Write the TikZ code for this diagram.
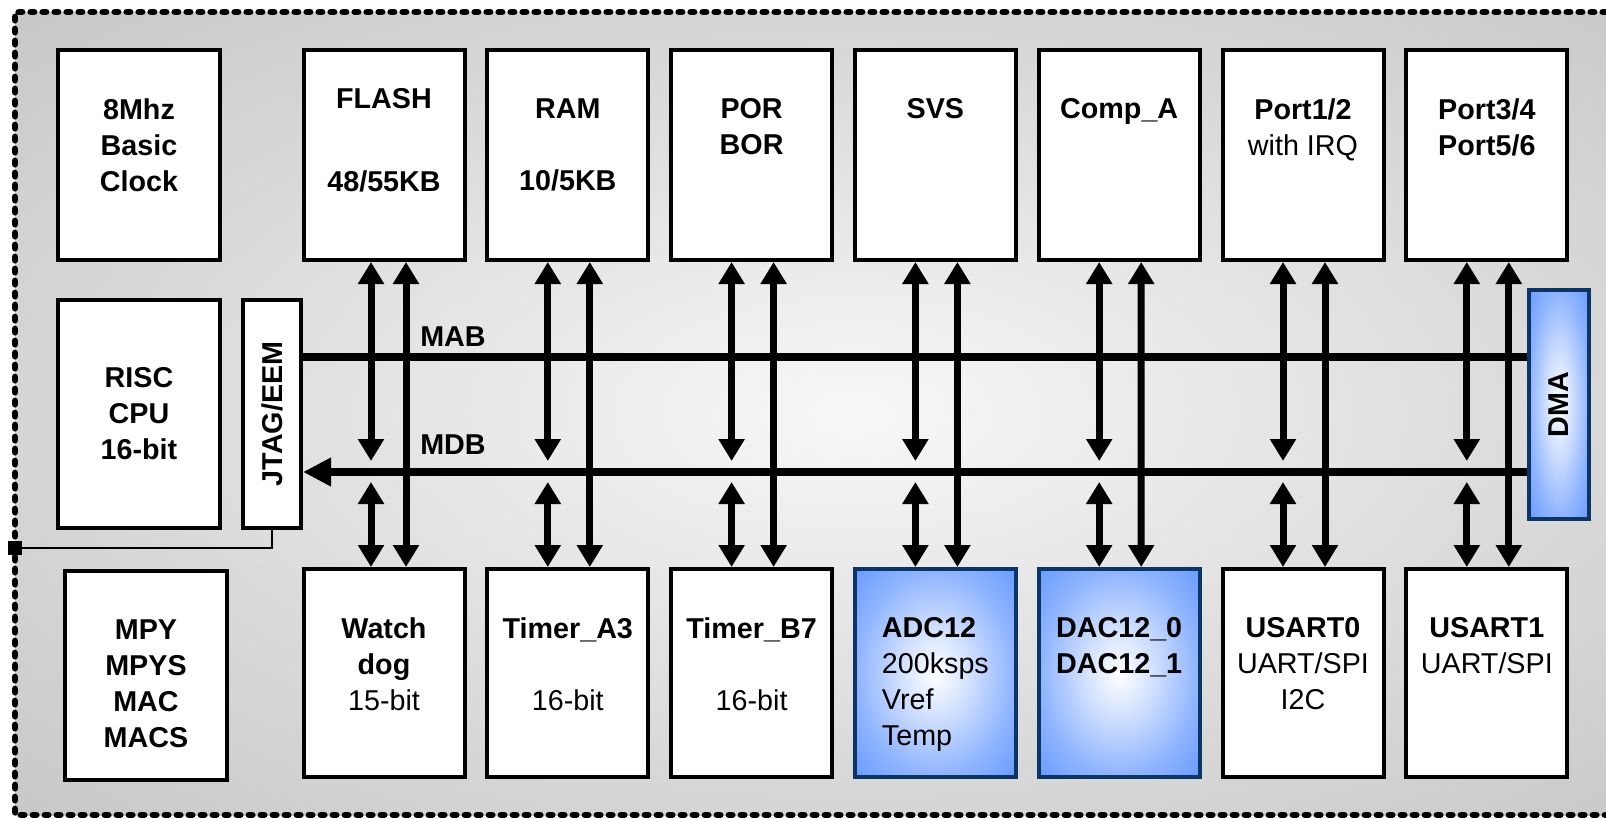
\documentclass[tikz,border=0pt]{standalone}
\usepackage{fontspec}
\setmainfont{Liberation Sans}
\usetikzlibrary{arrows.meta,positioning,calc}
\definecolor{anafill}{RGB}{102,153,255}
\definecolor{analine}{RGB}{12,52,100}
\pgfdeclareradialshading{chipbg}{\pgfpointorigin}{color(0bp)=(black!3); color(22bp)=(black!15); color(36bp)=(black!22); color(50bp)=(black!26); color(72bp)=(black!27)}
\pgfdeclareradialshading{anashade}{\pgfpointorigin}{color(0bp)=(white); color(9bp)=(anafill!25!white); color(24bp)=(anafill!72!white); color(36bp)=(anafill); color(72bp)=(anafill)}
\newcommand\blkfont{\fontsize{14.35}{18}\selectfont\bfseries}

\begin{document}
\begin{tikzpicture}[x=0.5pt,y=-0.5pt,
  blk/.style={draw,line width=2pt,fill=white,minimum width=80.5pt,minimum height=105pt,inner sep=0pt,align=center,font=\blkfont},
  lowblk/.style={blk,minimum height=104pt},
  anablk/.style={lowblk,draw=analine,shade,shading=anashade},
  txt/.style={align=center,inner sep=0pt,font=\blkfont},
  bus/.style={line width=4pt},
  dbl/.style={line width=3.5pt,{Triangle[length=11pt,width=12.5pt]}-{Triangle[length=11pt,width=12.5pt]}}]
  \useasboundingbox (0,0) rectangle (1606,819);
  \fill[white] (0,0) rectangle (1606,819);
  % chip outline
  \shade[shading=chipbg] (15,12) rectangle (1690,815);
  \draw[line width=3.4pt,line cap=round,dash pattern=on 1.6pt off 4.4pt]
    (1690,12) -- (15,12) -- (15,815) -- (1690,815);
  % left column
  \node[blk,minimum width=81pt] (clk) at (139,155) {};
  \node[txt,below=25pt of clk.north] (clkt) {8Mhz\\Basic\\Clock};
  \node[blk,minimum width=81pt,minimum height=114pt] (cpu) at (139,414) {RISC\\CPU\\16-bit};
  \node[blk,minimum width=29pt,minimum height=114pt] (jtag) at (272,414) {};
  \node[txt,rotate=90] (jtagt) at (jtag.center) {JTAG/EEM};
  \node[lowblk,minimum width=81pt,minimum height=104.5pt] (mpy) at (146,675.5) {};
  \node[txt,below=25pt of mpy.north] (mpyt) {MPY\\MPYS\\MAC\\MACS};
  % debug pin
  \node[fill=black,minimum size=7pt,inner sep=0pt] (pin) at (15,548) {};
  \draw[line width=1pt] (jtag.south) |- (pin);
  % top row
  \foreach \k/\dy/\lab in {1/20/{FLASH\\[23.5pt]48/55KB},2/25/{RAM\\[18pt]10/5KB},3/25/{POR\\BOR},
      4/25/SVS,5/25/Comp\_A,6/25/{Port1/2\\\mdseries with IRQ},7/25/{Port3/4\\Port5/6}} {
    \node[blk] (T\k) at (384+183.8*\k-183.8,155) {};
    \node[txt,below=\dy pt of T\k.north] (Tt\k) {\lab};
  }
  % bottom row
  \foreach \k/\lab in {1/{Watch\\dog\\\mdseries 15-bit},2/{Timer\_A3\\[18pt]\mdseries 16-bit},
      3/{Timer\_B7\\[18pt]\mdseries 16-bit},6/{USART0\\\mdseries UART/SPI\\\mdseries I2C},
      7/{USART1\\\mdseries UART/SPI}} {
    \node[lowblk] (B\k) at (384+183.8*\k-183.8,673) {};
    \node[txt,below=25pt of B\k.north] (Bt\k) {\lab};
  }
  \node[anablk] (B4) at (935.4,673) {};
  \node[txt,align=left,below=25pt of B4.north] (Bt4) {ADC12\\\mdseries 200ksps\\\mdseries Vref\\\mdseries Temp};
  \node[anablk] (B5) at (1119.2,673) {};
  \node[txt,align=left,below=25pt of B5.north] (Bt5) {DAC12\_0\\DAC12\_1};
  % DMA
  \node[anablk,minimum width=30pt,minimum height=114.5pt] (dma) at (1559,404.5) {};
  \node[txt,rotate=90] (dmat) at (dma.center) {DMA};
  % buses
  \coordinate (mab) at (0,357);
  \coordinate (mdb) at (0,472);
  \draw[bus] (jtag.east |- mab) -- (dma.west |- mab);
  \draw[bus,-{Triangle[length=14pt,width=13.5pt]}] (dma.west |- mdb) -- (jtag.east |- mdb);
  \node[txt] (mabt) at (453,337) {MAB};
  \node[txt] (mdbt) at (453,445) {MDB};
  % peripheral links
  \foreach \k/\dl in {1/-13,2/-20,3/-20,4/-20,5/-20,6/-20,7/-20} {
    \coordinate (u\k) at ($(T\k.south)+(\dl,0)$);
    \coordinate (v\k) at ($(B\k.north)+(\dl,0)$);
    \draw[dbl,shorten >=5.5pt] (u\k) -- (u\k |- mdb);
    \draw[dbl,shorten >=5pt] (v\k) -- (v\k |- mdb);
    \draw[dbl] ($(T\k.south)+(22,0)$) -- ($(B\k.north)+(22,0)$);
  }
\end{tikzpicture}
\end{document}
